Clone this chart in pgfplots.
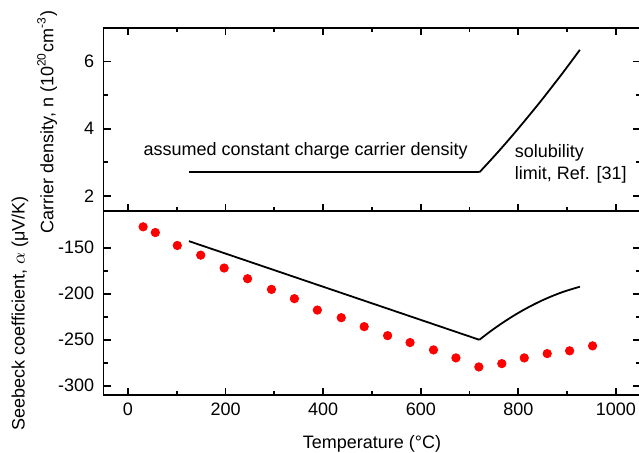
\documentclass[border=0pt]{standalone}
\usepackage{fontspec}
\setmainfont{Liberation Sans}
\usepackage{pgfplots}
\pgfplotsset{compat=1.18}

\pgfplotstableread{
T S
31 -127.2
56 -133.4
101 -147.5
149 -158
197 -172
245 -183.6
294 -195.2
341 -205.3
388 -217.7
437 -226
484 -235.7
532 -245.5
578 -253
626 -261
672 -269.7
719 -279.5
766 -275.9
812 -269.7
859 -265
905 -262
952 -256.6
}\seebeck

\pgfplotsset{
  panel/.style={
    scale only axis, width=268.4pt,
    xmin=-50, xmax=1050,
    xtick={0,200,...,1000}, minor x tick num=1,
    minor y tick num=1,
    tick align=inside,
    major tick length=3.5pt, minor tick length=2pt,
    axis line style={line width=0.9pt},
    every tick/.style={line width=0.9pt, black},
    /pgf/number format/assume math mode=true,
    /pgf/number format/1000 sep={},
    yticklabel style={xshift=-1.5pt},
  },
}

\begin{document}
\fontsize{9}{11.2}\selectfont
\begin{tikzpicture}
\useasboundingbox (-51.8pt,-29pt) rectangle (267.7pt,197.5pt);

\begin{axis}[panel, name=bot, at={(0,0)}, anchor=south west,
  height=92pt,
  ymin=-310, ymax=-110,
  ytick={-300,-250,-200,-150},
  xtick pos=bottom,
  xticklabel style={yshift=-1pt},
  xlabel={Temperature (°C)},
  xlabel style={yshift=-3.5pt},
  ylabel={Seebeck coefficient, $\alpha$ (μV/K)},
  ylabel style={at={(axis description cs:-0.156,0.443)}, anchor=center},
  ]
  \addplot[only marks, mark=*, mark size=2.1pt, color=red] table[x=T, y=S] {\seebeck};
  \addplot[black, line width=0.9pt] coordinates {(125,-142.8) (720,-250)};
  \addplot[black, line width=0.9pt, smooth] coordinates {
    (720,-250) (745,-239.9) (770,-230.7) (795,-222.3) (820,-214.8)
    (845,-208.1) (870,-202.3) (895,-197.3) (926,-192.3)};
\end{axis}

\begin{axis}[panel, name=top, at={(bot.north west)}, anchor=south west,
  height=91.5pt,
  ymin=1.55, ymax=7,
  ytick={2,4,6},
  xticklabels={},
  ylabel={Carrier density, n (10\textsuperscript{20}cm\textsuperscript{-3})},
  ylabel style={at={(axis description cs:-0.105,0.486)}, anchor=center},
  ]
  \addplot[black, line width=0.9pt] coordinates {(125,2.7) (720,2.7)};
  \addplot[black, line width=0.9pt, smooth] coordinates {
    (720,2.7) (745,3.094) (770,3.50) (795,3.923) (820,4.36)
    (845,4.806) (870,5.27) (895,5.742) (926,6.35)};
  \node[anchor=west, inner sep=0pt] at (axis cs:31,3.33) {assumed constant charge carrier density};
  \node[anchor=west, inner sep=0pt, align=left, font=\fontsize{9}{11.2}\selectfont] at (axis cs:792,2.95) {solubility\\limit, Ref. [31]};
\end{axis}
\end{tikzpicture}
\end{document}
